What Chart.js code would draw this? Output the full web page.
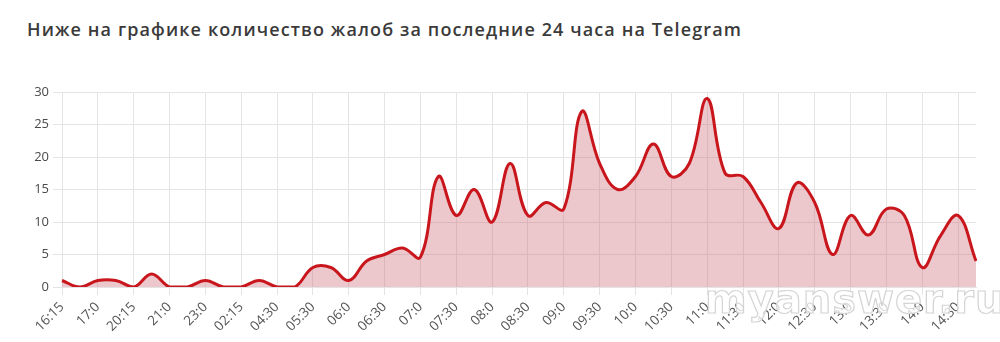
<!DOCTYPE html>
<html lang="ru">
<head>
<meta charset="UTF-8">
<title>Жалобы Telegram</title>
<script src="https://cdn.jsdelivr.net/npm/chart.js"></script>
<style>
    html, body { margin: 0; padding: 0; background: #fff; }
    .wrap { position: relative; width: 1000px; height: 342px; overflow: hidden; }
    .title {
        position: absolute; left: 27px; top: 17px;
        font-family: "Open Sans", sans-serif; font-size: 18px; font-weight: 600;
        color: #3a3a3a; white-space: nowrap;
    }
    .wm {
        position: absolute; left: 705px; top: 276px;
        font-family: "DejaVu Sans", sans-serif; font-size: 40px; font-weight: bold;
        color: rgba(255,255,255,0.75); -webkit-text-stroke: 1.2px #d4d4d4;
        letter-spacing: 1px; pointer-events: none;
    }
    #chart { position: absolute; left: 0; top: 0; }
</style>
</head>
<body>
<div class="wrap">
    <div class="title" id="title">Ниже на графике количество жалоб за последние 24 часа на Telegram</div>
    <canvas id="chart" width="1000" height="342"></canvas>
    <div class="wm">myanswer.ru</div>
</div>
<script>
// время замеров (подписи показаны через одну)
const times = [
    '16:15', '16:30', '17:0', '17:15', '20:15', '20:30', '21:0', '21:15',
    '23:0', '23:15', '02:15', '02:30', '04:30', '04:45', '05:30', '05:45',
    '06:0', '06:15', '06:30', '06:45', '07:0', '07:15', '07:30', '07:45',
    '08:0', '08:15', '08:30', '08:45', '09:0', '09:15', '09:30', '09:45',
    '10:0', '10:15', '10:30', '10:45', '11:0', '11:15', '11:30', '11:45',
    '12:0', '12:15', '12:30', '12:45', '13:0', '13:15', '13:30', '13:45',
    '14:0', '14:15', '14:30', '14:45'
];

// количество жалоб
const complaints = [
    1, 0, 1, 1, 0, 2, 0, 0,
    1, 0, 0, 1, 0, 0, 3, 3,
    1, 4, 5, 6, 4.6, 17, 11, 15,
    10, 19, 11, 13, 12, 27, 19, 15,
    17, 22, 17, 19, 29, 17.5, 17, 13,
    9, 16, 13, 5, 11, 8, 12, 11,
    3, 7.8, 11, 4
];

const yTicks = [0, 5, 10, 15, 20, 25, 30];

const gridColor = '#e4e4e4';

// растянуть заголовок до ширины как на оригинале
const title = document.getElementById('title');
const extra = 715 - title.getBoundingClientRect().width;
title.style.letterSpacing = (extra / title.textContent.length) + 'px';

new Chart(document.getElementById('chart'), {
    type: 'line',
    data: {
        labels: times,
        datasets: [{
            data: complaints,
            borderColor: '#c8161c',
            borderWidth: 3,
            backgroundColor: 'rgba(205, 110, 120, 0.38)',
            fill: 'origin',
            pointRadius: 0,
            tension: 0.4
        }]
    },
    options: {
        responsive: false,
        animation: false,
        layout: { padding: { top: 92, right: 24, left: 0, bottom: 0 } },
        plugins: { legend: { display: false }, tooltip: { enabled: false } },
        scales: {
            x: {
                afterFit: s => { s.height = 55; },
                grid: { color: gridColor, tickLength: 8 },
                border: { color: gridColor },
                ticks: {
                    autoSkip: false,
                    maxRotation: 45, minRotation: 45,
                    color: '#555',
                    font: { family: 'Open Sans', size: 13.5 },
                    padding: 4,
                    callback: function (v, i) { return i % 2 === 0 ? times[i] : null; }
                }
            },
            y: {
                min: 0, max: 30,
                afterFit: s => { s.width = 62; },
                afterBuildTicks: s => { s.ticks = yTicks.map(v => ({ value: v })); },
                grid: { color: gridColor, tickLength: 9 },
                border: { color: gridColor },
                ticks: {
                    color: '#4a4a4a',
                    font: { family: 'Open Sans', size: 13 },
                    padding: 4
                }
            }
        }
    }
});
</script>
</body>
</html>
